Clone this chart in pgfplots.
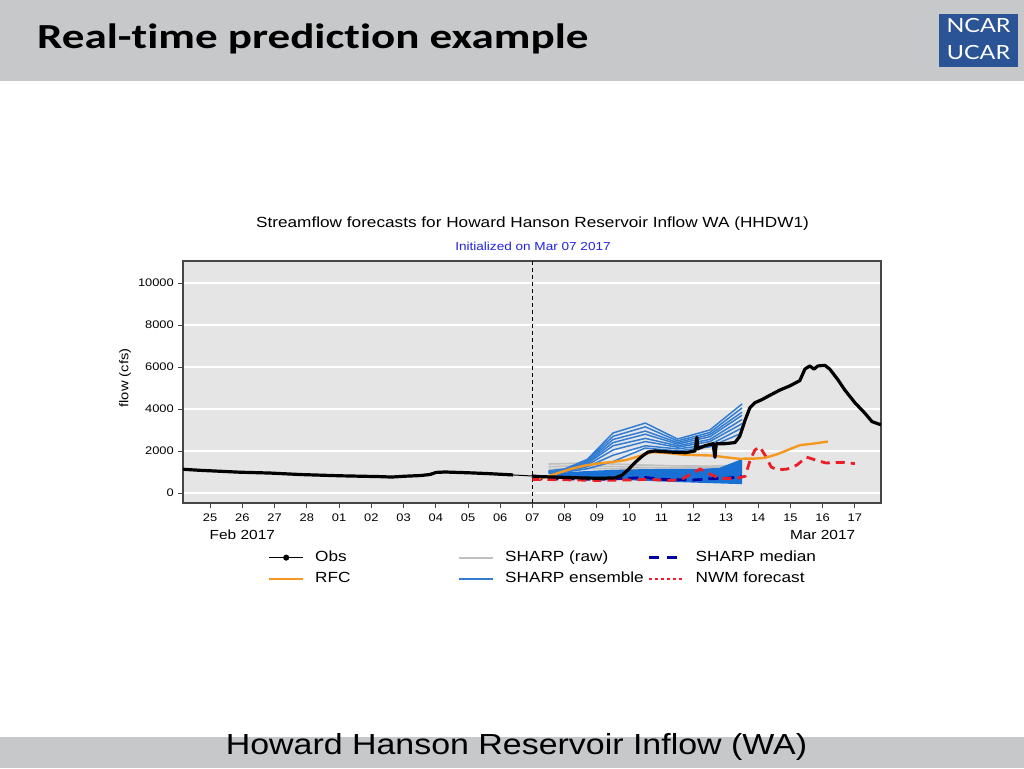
\documentclass[border=0pt]{standalone}
\usepackage{pgfplots}
\pgfplotsset{compat=1.18}
\usepackage{fontspec}
\setmainfont[FakeStretch=1.17]{Liberation Sans}
\newfontfamily\headfont[FakeStretch=1.28, Ligatures=NoCommon]{Carlito}
\newfontfamily\logofont[FakeStretch=1.2]{Lato}

\definecolor{hdrgray}{RGB}{198,200,202}
\definecolor{plotbg}{RGB}{229,229,229}
\definecolor{axgray}{RGB}{70,70,70}
\definecolor{rfc}{RGB}{245,152,32}
\definecolor{ens}{RGB}{50,125,210}
\definecolor{ensfill}{RGB}{25,112,212}
\definecolor{rawgray}{RGB}{192,192,192}
\definecolor{medblue}{RGB}{0,0,160}
\definecolor{nwmred}{RGB}{235,30,40}
\definecolor{subblue}{RGB}{35,35,230}
\definecolor{logoblue}{RGB}{43,84,150}

\begin{document}
\begin{tikzpicture}[x=1pt,y=1pt]
\useasboundingbox (0,0) rectangle (1024,768);
\fill[white] (0,0) rectangle (1024,768);
% slide header and footer
\fill[hdrgray] (0,687) rectangle (1024,768);
\fill[hdrgray] (0,0) rectangle (1024,31);
\node[anchor=base west, inner sep=0] at (37,719)
  {\headfont\bfseries\fontsize{35.2}{42}\selectfont Real-time prediction example};
\fill[logoblue] (939,701) rectangle (1018,754);
\node[white, inner sep=0] at (978.5,742) {\logofont\fontsize{19.5}{22}\selectfont NCAR};
\node[white, inner sep=0] at (978.5,715) {\logofont\fontsize{19.5}{22}\selectfont UCAR};
\node[anchor=base, inner sep=0] at (516.5,14)
  {\fontsize{29}{34}\selectfont Howard Hanson Reservoir Inflow (WA)};

% chart titles
\node[inner sep=0] at (532.5,544)
  {\fontsize{14.7}{17}\selectfont Streamflow forecasts for Howard Hanson Reservoir Inflow WA (HHDW1)};
\node[inner sep=0, text=subblue] at (533,522)
  {\fontsize{11.6}{14}\selectfont Initialized on Mar 07 2017};

\begin{axis}[
    at={(183pt,265pt)}, anchor=south west,
    scale only axis, width=698pt, height=242pt,
    xmin=-0.84, xmax=20.81,
    ymin=-476, ymax=11048,
    axis background/.style={fill=plotbg},
    axis line style={axgray, line width=1.4pt},
    tick pos=left, tick align=outside,
    major tick length=5pt,
    tick style={axgray, line width=1pt},
    xtick={0,...,20},
    xticklabels={25,{26\\{\fontsize{13.2}{18}\selectfont Feb 2017}},27,28,01,02,03,04,05,06,07,08,09,10,11,12,13,14,15,{16\\{\fontsize{13.2}{18}\selectfont Mar 2017}},17},
    xticklabel style={align=center, font=\fontsize{11}{18}\selectfont, inner sep=0pt, yshift=-6pt},
    ytick={0,2000,4000,6000,8000,10000},
    yticklabels={0,2000,4000,6000,8000,10000},
    scaled y ticks=false,
    yticklabel style={font=\fontsize{11}{13}\selectfont, inner sep=0pt, xshift=-4pt},
    ymajorgrids, major grid style={white, line width=1.3pt},
    ylabel={flow (cfs)},
    ylabel style={at={(axis description cs:-0.0831,0.5165)}, anchor=center, font=\fontsize{12.6}{15}\selectfont},
    legend columns=3,
    legend cell align=left,
    legend style={at={(axis description cs:0.1218,-0.198)}, anchor=north west,
        draw=none, fill=none, inner sep=0pt, column sep=0pt, row sep=8pt,
        font=\fontsize{14.7}{17}\selectfont,
        nodes={inner sep=0pt, text height=10pt, text depth=3pt}},
    legend image code/.code={\draw[#1] (0pt,0pt) -- (34pt,0pt);},
]
% forecast start
\addplot[forget plot, black, line width=1pt, dash pattern=on 4pt off 3pt]
  coordinates {(10,-476) (10,11048)};

% SHARP (raw)
\addplot[forget plot, rawgray, line width=1.6pt] coordinates {
(10.5,1380) (11.5,1420) (12.5,1380) (13.5,1330) (14.5,1290) (15.5,1280) (16.5,1330)};
\addplot[forget plot, rawgray, line width=1.6pt] coordinates {
(10.5,1250) (11.5,1300) (12.5,1260) (13.5,1220) (14.5,1200) (15.5,1210) (16.5,1250)};
\addplot[forget plot, rawgray, line width=1.6pt] coordinates {
(10.5,1120) (11.5,1180) (12.5,1150) (13.5,1130) (14.5,1110) (15.5,1130) (16.5,1180)};

% SHARP ensemble spread
\addplot[forget plot, fill=ensfill, draw=none] coordinates {
(10.55,950) (11.0,980) (11.5,1030) (12.0,1070) (12.5,1100) (13.5,1140) (14.5,1150)
(15.2,1150) (15.8,1200) (16.5,1620)
(16.5,420) (15.5,470) (14.5,520) (13.5,580) (12.5,630) (11.5,670) (10.55,700)} -- cycle;

% SHARP ensemble members
\addplot[forget plot, ens, line width=1.5pt] coordinates {
(10.5,1050) (11.0,1150) (11.7,1600) (12.5,2860) (13.5,3330) (14.5,2570) (15.5,3000) (16.5,4240)};
\addplot[forget plot, ens, line width=1.5pt] coordinates {
(10.5,1030) (11.0,1120) (11.7,1550) (12.5,2700) (13.5,3150) (14.5,2480) (15.5,2880) (16.5,4050)};
\addplot[forget plot, ens, line width=1.5pt] coordinates {
(10.5,1010) (11.0,1100) (11.7,1500) (12.5,2550) (13.5,2950) (14.5,2400) (15.5,2780) (16.5,3850)};
\addplot[forget plot, ens, line width=1.5pt] coordinates {
(10.5,1000) (11.0,1080) (11.7,1450) (12.5,2400) (13.5,2800) (14.5,2330) (15.5,2680) (16.5,3700)};
\addplot[forget plot, ens, line width=1.5pt] coordinates {
(10.5,990) (11.0,1060) (11.7,1400) (12.5,2250) (13.5,2600) (14.5,2250) (15.5,2550) (16.5,3500)};
\addplot[forget plot, ens, line width=1.5pt] coordinates {
(10.5,980) (11.0,1040) (11.7,1330) (12.5,2050) (13.5,2450) (14.5,2180) (15.5,2450) (16.5,3300)};
\addplot[forget plot, ens, line width=1.5pt] coordinates {
(10.5,960) (11.0,1020) (11.7,1250) (12.5,1800) (13.5,2250) (14.5,2100) (15.5,2300) (16.5,3100)};
\addplot[forget plot, ens, line width=1.5pt] coordinates {
(10.5,950) (11.0,1000) (11.7,1150) (12.5,1500) (13.5,2140) (14.5,2000) (15.5,2200) (16.5,2860)};

% SHARP median
\addplot[forget plot, medblue, line width=2.8pt, dash pattern=on 10pt off 6pt] coordinates {
(10.0,680) (11.0,670) (12.0,650) (13.0,700) (13.5,740) (14.0,650) (15.0,620) (15.5,680) (16.0,700) (16.5,780)};

% NWM forecast
\addplot[forget plot, nwmred, line width=2.8pt, dash pattern=on 9pt off 6pt] coordinates {
(10.0,650) (11.0,630) (12.0,600) (13.0,620) (13.6,650) (14.2,600) (14.6,620) (14.9,900)
(15.2,1140) (15.5,900) (15.8,700) (16.3,680) (16.6,800) (16.75,1570) (16.9,2050)
(17.05,2200) (17.25,1710) (17.4,1240) (17.6,1100) (17.9,1140) (18.2,1330) (18.5,1710)
(18.8,1560) (19.1,1430) (19.6,1460) (20.0,1400)};

% RFC
\addplot[forget plot, rfc, line width=2.4pt] coordinates {
(10.2,700) (10.4,760) (10.8,950) (11.2,1150) (11.6,1300) (12.0,1400) (12.5,1480)
(12.9,1570) (13.3,1750) (13.7,1950) (14.2,1900) (14.7,1820) (15.2,1800) (15.6,1780)
(16.0,1700) (16.4,1630) (16.9,1640) (17.2,1670) (17.6,1850) (18.0,2100) (18.3,2280)
(18.7,2350) (19.16,2450)};

% Obs
\addplot[forget plot, black, line width=3.2pt, line join=round] coordinates {
(-0.84,1130) (-0.31,1080) (0.93,990) (1.86,950) (2.79,880) (3.41,850) (4.03,820)
(4.65,800) (5.27,780) (5.64,760) (6.05,800) (6.51,830) (6.82,880) (7.01,980)
(7.29,1000) (8.06,960) (8.68,920) (9.40,860)};
\addplot[forget plot, black, line width=1pt] coordinates {(9.40,860) (9.98,810)};
\addplot[forget plot, black, line width=3.2pt, line join=round] coordinates {
(9.98,810) (10.23,780) (10.85,750) (11.47,720) (12.09,700) (12.56,720) (12.78,850)
(12.96,1100) (13.18,1450) (13.40,1750) (13.58,1950) (13.80,2000) (14.26,1950)
(14.73,1920) (15.04,2000) (15.10,2650) (15.13,2100) (15.35,2250) (15.60,2350)
(15.66,1700) (15.70,2350) (15.97,2350) (16.28,2400) (16.43,2700) (16.59,3450)
(16.74,4050) (16.90,4300) (17.12,4450) (17.36,4650) (17.67,4900) (17.98,5100)
(18.29,5350) (18.45,5900) (18.60,6050) (18.73,5900) (18.85,6050) (19.07,6080)
(19.22,5900) (19.47,5400) (19.69,4900) (20.0,4300) (20.31,3800) (20.53,3400)
(20.71,3300) (20.81,3250)};

% legend (row-wise, as in the reference)
\addlegendimage{legend image code/.code={
  \draw[black, line width=1.2pt] (0pt,0pt) -- (34pt,0pt);
  \fill[black] (17pt,0pt) circle (2.8pt);}}
\addlegendentry{\hspace*{11pt}\makebox[143pt][l]{Obs}}
\addlegendimage{rawgray, line width=2pt}
\addlegendentry{\hspace*{11pt}\makebox[143pt][l]{SHARP (raw)}}
\addlegendimage{medblue, line width=2.4pt, dash pattern=on 10pt off 8pt}
\addlegendentry{\hspace*{11pt}SHARP median}
\addlegendimage{rfc, line width=2pt}
\addlegendentry{\hspace*{11pt}\makebox[143pt][l]{RFC}}
\addlegendimage{ens, line width=2pt}
\addlegendentry{\hspace*{11pt}\makebox[143pt][l]{SHARP ensemble}}
\addlegendimage{nwmred, line width=2pt, dash pattern=on 3pt off 3pt}
\addlegendentry{\hspace*{11pt}NWM forecast}
\end{axis}
\end{tikzpicture}
\end{document}
